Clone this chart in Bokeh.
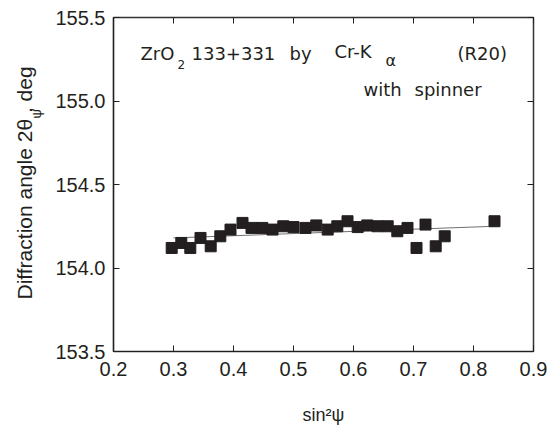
import math
from bokeh.plotting import figure
from bokeh.models import (LinearAxis, FixedTicker, PrintfTickFormatter, Label,
                          Range1d)
from bokeh.embed import file_html
from bokeh.resources import INLINE

# ---- data ----
sin2psi = [0.297, 0.313, 0.328, 0.345, 0.362, 0.378, 0.395, 0.415, 0.430, 0.448,
           0.465, 0.483, 0.500, 0.520, 0.538, 0.557, 0.573, 0.590, 0.607, 0.623,
           0.640, 0.657, 0.673, 0.690, 0.705, 0.720, 0.737, 0.752, 0.835]
two_theta = [154.12, 154.15, 154.12, 154.18, 154.13, 154.19, 154.23, 154.27, 154.24, 154.24,
             154.23, 154.25, 154.245, 154.24, 154.255, 154.23, 154.25, 154.28, 154.245, 154.255,
             154.25, 154.25, 154.22, 154.24, 154.12, 154.26, 154.13, 154.19, 154.28]
fit_x = [0.300, 0.835]
fit_y = [154.18, 154.25]
x_ticks = [0.2, 0.3, 0.4, 0.5, 0.6, 0.7, 0.8, 0.9]
y_ticks = [153.5, 154.0, 154.5, 155.0, 155.5]

FONT = "Liberation Sans"
AFONT = "DejaVu Sans"
INK = "#231f20"

p = figure(width=553, height=427, output_backend="svg", toolbar_location=None,
           x_range=Range1d(0.2, 0.9), y_range=Range1d(153.5, 155.5),
           min_border_left=113, min_border_right=20, min_border_top=17,
           min_border_bottom=73, background_fill_color="white",
           border_fill_color="white")
p.grid.visible = False
p.outline_line_color = "#333333"
p.outline_line_width = 1.5

for ax in (p.xaxis[0], p.yaxis[0]):
    ax.major_tick_in = 6
    ax.major_tick_out = 0
    ax.minor_tick_line_color = None
    ax.major_tick_line_color = INK
    ax.axis_line_color = INK
    ax.axis_line_width = 1.2
    ax.major_label_text_font = FONT
    ax.major_label_text_font_size = "20px"
    ax.major_label_text_color = INK

p.xaxis[0].ticker = FixedTicker(ticks=x_ticks)
p.xaxis[0].formatter = PrintfTickFormatter(format="%.1f")
p.xaxis[0].major_label_standoff = 10
p.xaxis[0].axis_label = "sin²ψ"
p.xaxis[0].axis_label_text_font = FONT
p.xaxis[0].axis_label_text_font_size = "18px"
p.xaxis[0].axis_label_text_font_style = "normal"
p.xaxis[0].axis_label_text_color = INK
p.xaxis[0].axis_label_standoff = 26
p.yaxis[0].ticker = FixedTicker(ticks=y_ticks)
p.yaxis[0].formatter = PrintfTickFormatter(format="%.1f")
p.yaxis[0].major_label_standoff = 8

top = LinearAxis(ticker=FixedTicker(ticks=x_ticks), major_tick_in=6, major_tick_out=0,
                 minor_tick_line_color=None, major_label_text_font_size="0px",
                 major_label_standoff=0, axis_line_color=None, major_tick_line_color=INK)
right = LinearAxis(ticker=FixedTicker(ticks=y_ticks), major_tick_in=6, major_tick_out=0,
                   minor_tick_line_color=None, major_label_text_font_size="0px",
                   major_label_standoff=0, axis_line_color=None, major_tick_line_color=INK)
p.add_layout(top, "above")
p.add_layout(right, "right")

# fit line and data
p.line(fit_x, fit_y, line_color="#707070", line_width=1)
p.scatter(sin2psi, two_theta, marker="square", size=11, fill_color=INK, line_color=INK)

def lab(text, x, y, size, angle=0.0, align="left", font=FONT, place="center"):
    p.add_layout(Label(x=x, y=y, x_units="screen", y_units="screen", text=text,
                       text_font=font, text_font_size=size, text_color=INK,
                       angle=angle, text_align=align, text_baseline="alphabetic"),
                 place)

# y axis title (in the left side panel); the gap holds the subscript psi
lab("Diffraction angle 2θ  , deg", -5, 52, "21px", angle=math.pi / 2, place="left")
lab("ψ", 22, 233, "13px", angle=math.pi / 2, place="left")

# annotation
lab("ZrO", 27, 298, "18px", font=AFONT)
lab("2", 64, 287, "12px", font=AFONT)
lab("133+331", 78, 298, "18px", font=AFONT)
lab("by", 176, 298, "18px", font=AFONT)
lab("Cr-K", 221, 300, "18px", font=AFONT)
lab("α", 272, 291, "16px", font=AFONT)
lab("(R20)", 344, 298, "18px", font=AFONT)
lab("with", 250, 262, "18px", font=AFONT)
lab("spinner", 301, 262, "18px", font=AFONT)

open("out.html", "w").write(file_html(p, INLINE))
